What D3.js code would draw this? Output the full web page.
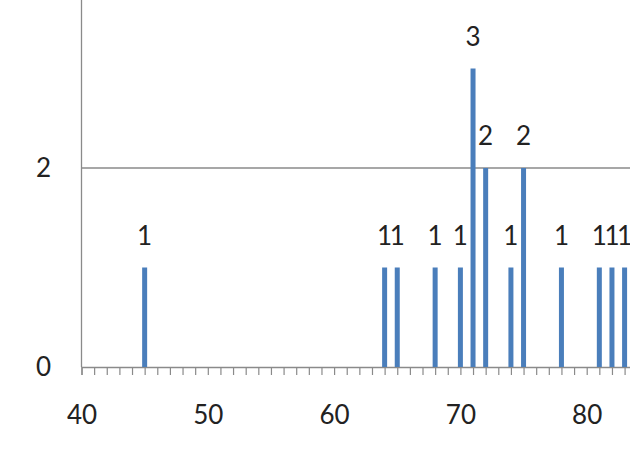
<!DOCTYPE html>
<html>
<head>
<meta charset="utf-8">
<script src="https://cdn.jsdelivr.net/npm/d3@7"></script>
<style>
  html, body { margin: 0; padding: 0; background: #ffffff; }
  svg { display: block; }
  text { font-family: Lato, "Open Sans", "Liberation Sans", sans-serif; fill: #222; }
</style>
</head>
<body>
<svg id="chart" width="630" height="470"></svg>
<script>
const categories = [45, 64, 65, 68, 70, 71, 72, 74, 75, 78, 81, 82, 83];
const counts     = [1, 1, 1, 1, 1, 3, 2, 1, 2, 1, 1, 1, 1];
const xTickLabels = [40, 50, 60, 70, 80];
const yTickLabels = [0, 2];
const gridValues  = [2, 4];

const svg = d3.select("#chart");
const fs = 26;
const x0 = 81.5, pxPerUnit = 12.63;
const x = d3.scaleLinear().domain([40, 90]).range([x0, x0 + 50 * pxPerUnit]);
const y = d3.scaleLinear().domain([0, 2]).range([367, 168]);

// horizontal gridlines
svg.append("g").selectAll("line")
  .data(gridValues)
  .join("line")
  .attr("x1", x0).attr("x2", 630)
  .attr("y1", d => y(d)).attr("y2", d => y(d))
  .attr("stroke", "#8a8a8a").attr("stroke-width", 1.3);

// y axis line
svg.append("line")
  .attr("x1", x0).attr("x2", x0).attr("y1", 0).attr("y2", y(0))
  .attr("stroke", "#8a8a8a").attr("stroke-width", 1.3);

// y tick labels
svg.append("g").selectAll("text")
  .data(yTickLabels)
  .join("text")
  .attr("x", 51).attr("y", d => y(d))
  .attr("dy", "0.36em")
  .attr("text-anchor", "end")
  .attr("font-size", fs)
  .text(d => d);

// minor x ticks (every unit)
const minor = d3.axisBottom(x).tickValues(d3.range(40, 91, 1)).tickSize(8).tickFormat("");
const gMinor = svg.append("g").attr("transform", `translate(0,${y(0)})`).call(minor);
gMinor.select(".domain").attr("stroke", "#8a8a8a").attr("stroke-width", 1.3);
gMinor.selectAll(".tick line").attr("stroke", "#8a8a8a").attr("stroke-width", 1.2);

// x tick labels
const major = d3.axisBottom(x).tickValues(xTickLabels).tickSize(0).tickPadding(39).tickFormat(d3.format("d"));
const gMajor = svg.append("g").attr("transform", `translate(0,${y(0)})`).call(major);
gMajor.select(".domain").remove();
gMajor.selectAll("text").attr("font-size", fs).attr("fill", "#222")
  .style("font-family", 'Lato, "Open Sans", "Liberation Sans", sans-serif');

// bars
const data = categories.map((c, i) => ({ c, v: counts[i] }));
const barW = 5;
svg.append("g").selectAll("rect")
  .data(data)
  .join("rect")
  .attr("x", d => x(d.c) - barW / 2)
  .attr("width", barW)
  .attr("y", d => y(d.v))
  .attr("height", d => y(0) - y(d.v))
  .attr("fill", "#4a7ebb");

// data labels
svg.append("g").selectAll("text")
  .data(data)
  .join("text")
  .attr("x", d => x(d.c))
  .attr("y", d => y(d.v) - 23)
  .attr("text-anchor", "middle")
  .attr("font-size", fs)
  .text(d => d.v);
</script>
</body>
</html>
